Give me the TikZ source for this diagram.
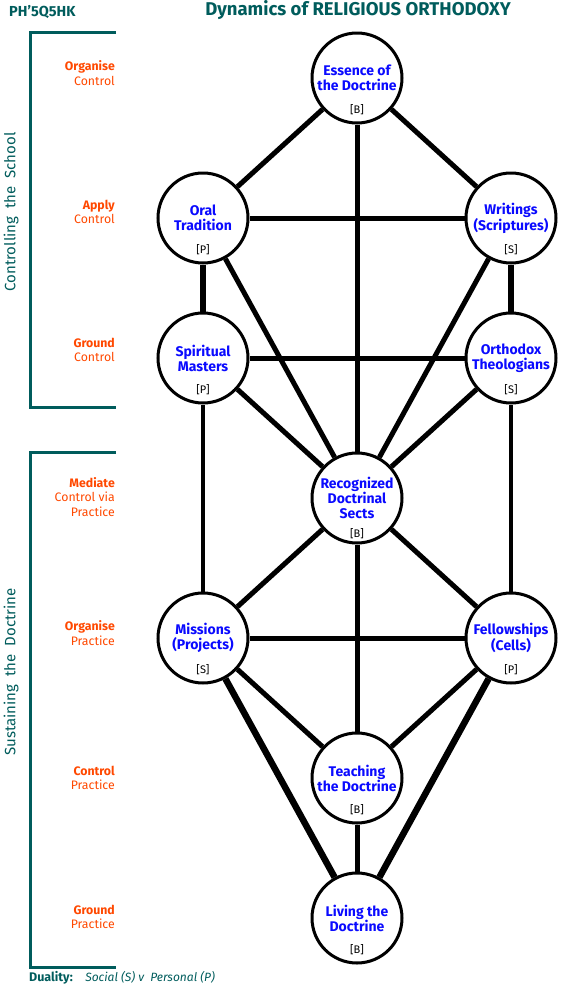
\documentclass[tikz,border=0pt]{standalone}
\usepackage{fontspec}
\setmainfont{Fira Sans}
\usetikzlibrary{positioning}
\definecolor{schoolteal}{RGB}{0,92,92}
\definecolor{levelorange}{RGB}{255,72,0}
\definecolor{stageblue}{RGB}{10,10,255}
\begin{document}
\begin{tikzpicture}[x=1pt, y=-1pt, node distance={140pt and 154pt}, on grid,
  main/.style = {draw, circle, line width=3pt, fill=white, minimum size=90pt, inner sep=0pt, align=center, text=stageblue, font=\fontsize{14}{15}\selectfont\bfseries},
  tag/.style = {anchor=base, inner sep=0pt, font=\fontsize{11}{12}\selectfont},
  level/.style = {anchor=east, inner sep=0pt, align=right, text=levelorange, font=\fontsize{12.3}{14.5}\selectfont},
  side/.style = {rotate=90, inner sep=0pt, text=schoolteal, font=\fontsize{15}{17}\selectfont},
  bracket/.style = {draw=schoolteal, line width=3pt},
  link/.style = {line width=5pt},
  heavy/.style = {line width=6.5pt},
  light/.style = {line width=4pt}]
\useasboundingbox (0,0) rectangle (572,994);

% headings
\node[anchor=west, inner sep=0pt, text=schoolteal, font=\fontsize{14.5}{16}\selectfont\bfseries] (code) at (9,12) {PH’5Q5HK};
\node[inner sep=0pt, text=schoolteal, font=\fontsize{18.5}{20}\selectfont\bfseries] (heading) at (358,10) {Dynamics of RELIGIOUS ORTHODOXY};

% stages
\node[main] (essence) at (357,78) {Essence of\\the Doctrine};
\node[main] (oral) [below left=of essence] {Oral\\Tradition};
\node[main] (writings) [below right=of essence] {Writings\\(Scriptures)};
\node[main] (spiritual) [below=of oral] {Spiritual\\Masters};
\node[main] (orthodox) [below=of writings] {Orthodox\\Theologians};
\node[main] (sects) [below right=of spiritual] {Recognized\\Doctrinal\\Sects};
\node[main] (missions) [below left=of sects] {Missions\\(Projects)};
\node[main] (fellowships) [below right=of sects] {Fellowships\\(Cells)};
\node[main] (teaching) [below right=of missions] {Teaching\\the Doctrine};
\node[main] (living) [below=of teaching] {Living the\\Doctrine};

\node[tag] (essence-tag) at ([yshift=-35pt]essence.center) {[B]};
\node[tag] (oral-tag) at ([yshift=-35pt]oral.center) {[P]};
\node[tag] (writings-tag) at ([yshift=-35pt]writings.center) {[S]};
\node[tag] (spiritual-tag) at ([yshift=-35pt]spiritual.center) {[P]};
\node[tag] (orthodox-tag) at ([yshift=-35pt]orthodox.center) {[S]};
\node[tag] (sects-tag) at ([yshift=-39pt]sects.center) {[B]};
\node[tag] (missions-tag) at ([yshift=-35pt]missions.center) {[S]};
\node[tag] (fellowships-tag) at ([yshift=-35pt]fellowships.center) {[P]};
\node[tag] (teaching-tag) at ([yshift=-35pt]teaching.center) {[B]};
\node[tag] (living-tag) at ([yshift=-35pt]living.center) {[B]};

% links
\draw[link] (essence) -- (oral);
\draw[link] (essence) -- (writings);
\draw[link] (essence) -- (sects);
\draw[link] (oral) -- (writings);
\draw[heavy] (oral) -- (spiritual);
\draw[link] (oral) -- (sects);
\draw[heavy] (writings) -- (orthodox);
\draw[link] (writings) -- (sects);
\draw[link] (spiritual) -- (orthodox);
\draw[link] (spiritual) -- (sects);
\draw[light] (spiritual) -- (missions);
\draw[link] (orthodox) -- (sects);
\draw[light] (orthodox) -- (fellowships);
\draw[link] (sects) -- (missions);
\draw[link] (sects) -- (fellowships);
\draw[link] (sects) -- (teaching);
\draw[link] (missions) -- (fellowships);
\draw[link] (missions) -- (teaching);
\draw[heavy] (missions) -- (living);
\draw[link] (fellowships) -- (teaching);
\draw[heavy] (fellowships) -- (living);
\draw[link] (teaching) -- (living);

% levels
\node[level] (organise-control) at (115,73) {\textbf{Organise}\\Control};
\node[level] (apply-control) at (115,212) {\textbf{Apply}\\Control};
\node[level] (ground-control) at (115,350) {\textbf{Ground}\\Control};
\node[level] (mediate) at (115,497) {\textbf{Mediate}\\Control via\\Practice};
\node[level] (organise-practice) at (115,633) {\textbf{Organise}\\Practice};
\node[level] (control-practice) at (115,778) {\textbf{Control}\\Practice};
\node[level] (ground-practice) at (115,917) {\textbf{Ground}\\Practice};

% brackets
\draw[bracket] (116,32) -- (30,32) -- (30,407) -- (116,407);
\draw[bracket] (116,452) -- (30,452) -- (30,967) -- (116,967);
\node[side] (school) at (11,212) {Controlling\ \ the\ \ School};
\node[side] (doctrine) at (11,672) {Sustaining\ \ the\ \ Doctrine};

\node[anchor=west, inner sep=0pt, text=schoolteal, font=\fontsize{12.5}{14}\selectfont] (duality) at (29,978) {\textbf{Duality:}\quad{\fontsize{12}{14}\selectfont\itshape Social (S) v\ \ Personal (P)}};
\end{tikzpicture}
\end{document}
